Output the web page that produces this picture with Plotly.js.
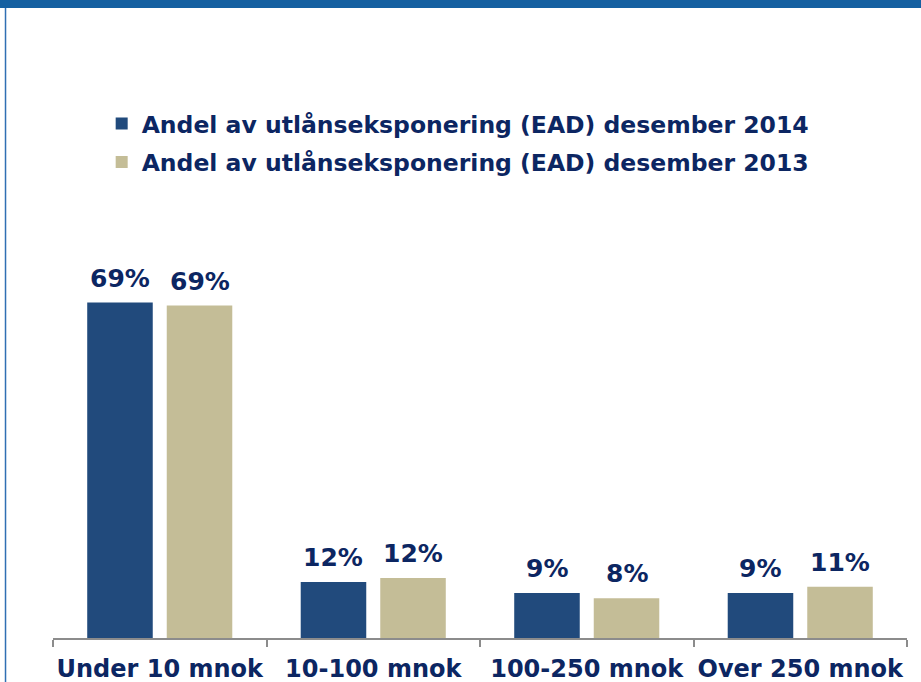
<!DOCTYPE html>
<html>
<head>
<meta charset="utf-8">
<script src="https://cdn.plot.ly/plotly-3.0.1.min.js"></script>
<style>
  html, body { margin: 0; padding: 0; background: #ffffff; }
  #chart { width: 921px; height: 682px; }
</style>
</head>
<body>
<div id="chart"></div>
<script>
// Exposure size buckets
const categories = ["Under 10 mnok", "10-100 mnok", "100-250 mnok", "Over 250 mnok"];

// Share of lending exposure (EAD), percent
const share2014 = [69.4, 11.6, 9.3, 9.3];
const share2013 = [68.8, 12.4, 8.2, 10.6];

const seriesNames = [
  "Andel av utlånseksponering (EAD) desember 2014",
  "Andel av utlånseksponering (EAD) desember 2013"
];

const navy = "#0C2662";
const colDark = "#214A7C";
const colTan = "#C4BD97";
const fontFam = "DejaVu Sans, Verdana, sans-serif";

const traces = [
  {
    type: "bar", name: seriesNames[0], x: categories, y: share2014,
    marker: { color: colDark }, legendgroup: "a", hoverinfo: "x+y"
  },
  {
    type: "bar", name: seriesNames[1], x: categories, y: share2013,
    marker: { color: colTan }, legendgroup: "b", hoverinfo: "x+y"
  }
];

// value labels above each bar, taken from the same series values
const labelOffset = 40;
const annotations = [];
[share2014, share2013].forEach((vals, si) => {
  vals.forEach((v, i) => {
    annotations.push({
      x: categories[i], y: v, xref: "x", yref: "y",
      xshift: si === 0 ? -labelOffset : labelOffset,
      yshift: 8,
      yanchor: "bottom", xanchor: "center",
      text: Math.round(v) + "%",
      showarrow: false,
      font: { family: fontFam, size: 25, color: navy, weight: "bold" }
    });
  });
});

const layout = {
  width: 921, height: 682,
  margin: { l: 53, r: 14, t: 60, b: 44 },
  paper_bgcolor: "#ffffff", plot_bgcolor: "#ffffff",
  barmode: "group", bargap: 0.255, bargroupgap: 0.176,
  showlegend: true,
  legend: {
    x: 0.057, y: 0.928, xanchor: "left", yanchor: "top",
    orientation: "v", tracegroupgap: 5, itemwidth: 30,
    font: { family: fontFam, size: 23.5, color: navy, weight: "bold" },
    bgcolor: "rgba(0,0,0,0)", traceorder: "grouped"
  },
  xaxis: {
    type: "category", range: [-0.5, 3.5], fixedrange: true,
    showline: true, linecolor: "#8C8C8C", linewidth: 2,
    ticks: "outside", tickson: "boundaries", ticklen: 7, tickwidth: 2, tickcolor: "#8C8C8C",
    tickangle: 0,
    tickfont: { family: fontFam, size: 24, color: navy, weight: "bold" },
    ticklabelstandoff: 8,
    showgrid: false, zeroline: false
  },
  yaxis: {
    range: [0, 119.6], fixedrange: true,
    showticklabels: false, showgrid: false, zeroline: false, showline: false, ticks: ""
  },
  shapes: [
    // top band
    { type: "rect", xref: "paper", yref: "paper", x0: -0.1, x1: 1.1, y0: 1.09, y1: 1.2,
      fillcolor: "#1560A1", line: { width: 0 }, layer: "above" },
    // left frame line
    { type: "line", xref: "paper", yref: "paper", x0: -0.0556, x1: -0.0556, y0: 1.09, y1: -0.1,
      line: { color: "#2F6FB3", width: 1.5 } }
  ],
  annotations: annotations
};

Plotly.newPlot("chart", traces, layout, { displayModeBar: false, staticPlot: true });
</script>
</body>
</html>
